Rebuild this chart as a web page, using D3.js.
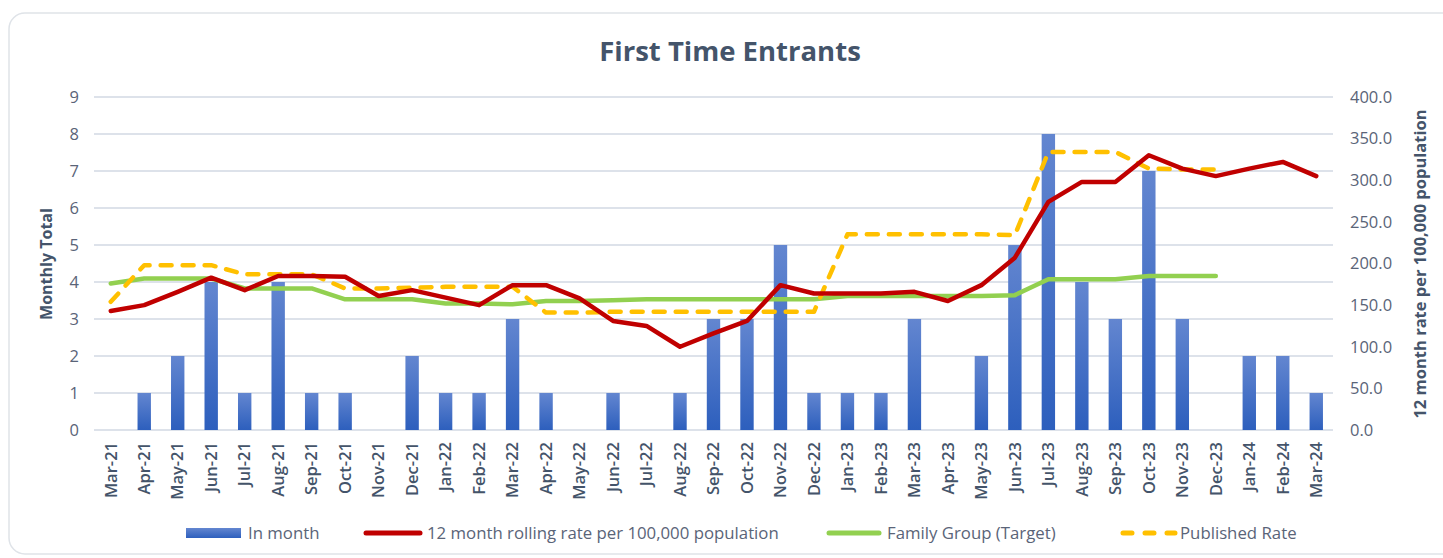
<!DOCTYPE html>
<html><head><meta charset="utf-8">
<script src="https://cdn.jsdelivr.net/npm/d3@7"></script>
<style>
html,body{margin:0;padding:0;background:#fff;}
svg{display:block;font-family:"Open Sans","Noto Sans",sans-serif;}
</style></head>
<body>
<svg id="chart" width="1443" height="558"></svg>
<script>
const months = ["Mar-21","Apr-21","May-21","Jun-21","Jul-21","Aug-21","Sep-21","Oct-21","Nov-21","Dec-21",
"Jan-22","Feb-22","Mar-22","Apr-22","May-22","Jun-22","Jul-22","Aug-22","Sep-22","Oct-22","Nov-22","Dec-22",
"Jan-23","Feb-23","Mar-23","Apr-23","May-23","Jun-23","Jul-23","Aug-23","Sep-23","Oct-23","Nov-23","Dec-23",
"Jan-24","Feb-24","Mar-24"];
const inMonth = [0,1,2,4,1,4,1,1,0,2, 1,1,3,1,0,1,0,1,3,3,5,1, 1,1,3,0,2,5,8,4,3,7,3,0, 2,2,1];
const rollingRate = [143,150,166,183,168,185,185,184,161,168, 159,150,174,174,158,131,125,100,116,131,174,164,
 164,164,166,155,174,207,274,298,298,330,314,305, 314,322,305];
const familyGroup = [176,182,182,182,170,170,170,157,157,157, 152,152,151,155,155,156,157,157,157,157,157,157,
 161,161,161,161,161,162,181,181,181,185,185,185, null,null,null];
const publishedRate = [154,198,198,198,187,187,187,170,170,171, 172,172,172,141,141,142,142,142,142,142,142,142,
 235,235,235,235,235,234,334,334,334,314,313,313, null,null,null];
const leftTicks = [0,1,2,3,4,5,6,7,8,9];
const rightTicks = [0,50,100,150,200,250,300,350,400];

const svg = d3.select("#chart");
const L = 94, R = 1333, T = 97, B = 430;

// card border
svg.append("rect").attr("x",9).attr("y",13).attr("width",1450).attr("height",541)
  .attr("rx",16).attr("fill","#fff").attr("stroke","#dfe3e8").attr("stroke-width",1.5);

const x = d3.scaleBand().domain(months).range([L,R]).paddingInner(0.6).paddingOuter(0.3);
const yL = d3.scaleLinear().domain([0,9]).range([B,T]);
const yR = d3.scaleLinear().domain([0,400]).range([B,T]);
const cx = m => x(m) + x.bandwidth()/2;

// title
svg.append("text").attr("x",730).attr("y",61).attr("text-anchor","middle")
  .attr("font-size",27.5).attr("font-weight",700).attr("fill","#44546a").text("First Time Entrants");

// gridlines
svg.append("g").selectAll("line").data(leftTicks).join("line")
  .attr("x1",L).attr("x2",R).attr("y1",d=>yL(d)).attr("y2",d=>yL(d))
  .attr("stroke","#dde2ea").attr("stroke-width",2);

// left axis
const axL = svg.append("g").attr("transform",`translate(${L-12},0)`)
  .call(d3.axisLeft(yL).tickValues(leftTicks).tickSize(0).tickFormat(d3.format("d")));
axL.select(".domain").remove();
axL.selectAll("text").attr("font-size",16.5).attr("fill","#5a6478").attr("font-family","Open Sans");

// right axis
const axR = svg.append("g").attr("transform",`translate(${R+14},0)`)
  .call(d3.axisRight(yR).tickValues(rightTicks).tickSize(0).tickFormat(d3.format(".1f")));
axR.select(".domain").remove();
axR.selectAll("text").attr("font-size",16.5).attr("fill","#5a6478").attr("font-family","Open Sans");

// axis titles
svg.append("text").attr("transform","translate(52,264) rotate(-90)").attr("text-anchor","middle")
  .attr("font-size",16).attr("font-weight",700).attr("fill","#44546a").text("Monthly Total");
svg.append("text").attr("transform","translate(1426,264) rotate(-90)").attr("text-anchor","middle")
  .attr("font-size",16.5).attr("font-weight",700).attr("fill","#44546a").text("12 month rate per 100,000 population");

// x labels
const axX = svg.append("g").attr("transform",`translate(0,${B})`)
  .call(d3.axisBottom(x).tickSize(0));
axX.select(".domain").remove();
axX.selectAll("text").attr("transform","rotate(-90)").attr("text-anchor","end")
  .attr("x",-12).attr("y",0).attr("dy","0.35em")
  .attr("font-size",16.5).attr("font-weight",600).attr("fill","#44546a").attr("font-family","Open Sans");

// gradient
const defs = svg.append("defs");
const g = defs.append("linearGradient").attr("id","barGrad").attr("x1",0).attr("y1",0).attr("x2",0).attr("y2",1);
g.append("stop").attr("offset","0%").attr("stop-color","#6386d0");
g.append("stop").attr("offset","100%").attr("stop-color","#2d5fbd");

// bars
svg.append("g").selectAll("rect").data(months.map((m,i)=>({m,v:inMonth[i]}))).join("rect")
  .attr("x",d=>x(d.m)).attr("width",x.bandwidth())
  .attr("y",d=>yL(d.v)).attr("height",d=>B-yL(d.v))
  .attr("fill","url(#barGrad)");

function drawLine(vals,color,dash){
  const line = d3.line().defined(d=>d.v!=null).x(d=>cx(d.m)).y(d=>yR(d.v));
  const p = svg.append("path").datum(months.map((m,i)=>({m,v:vals[i]})))
    .attr("d",line).attr("fill","none").attr("stroke",color).attr("stroke-width",4.5)
    .attr("stroke-linejoin","round").attr("stroke-linecap","round");
  if(dash) p.attr("stroke-dasharray",dash);
}
drawLine(familyGroup,"#92d050");
drawLine(publishedRate,"#ffc000","11,11");
drawLine(rollingRate,"#c00000");

// legend
const leg = svg.append("g");
const ly = 533;
leg.append("rect").attr("x",186).attr("y",ly-5).attr("width",55).attr("height",10).attr("fill","url(#barGrad)");
leg.append("text").attr("x",248).attr("y",ly).attr("dy","0.35em").text("In month");
leg.append("line").attr("x1",366).attr("x2",420).attr("y1",ly).attr("y2",ly).attr("stroke","#c00000").attr("stroke-width",5).attr("stroke-linecap","round");
leg.append("text").attr("x",427).attr("y",ly).attr("dy","0.35em").text("12 month rolling rate per 100,000 population");
leg.append("line").attr("x1",829).attr("x2",879).attr("y1",ly).attr("y2",ly).attr("stroke","#92d050").attr("stroke-width",5).attr("stroke-linecap","round");
leg.append("text").attr("x",887).attr("y",ly).attr("dy","0.35em").text("Family Group (Target)");
leg.append("line").attr("x1",1123).attr("x2",1175).attr("y1",ly).attr("y2",ly).attr("stroke","#ffc000").attr("stroke-width",5).attr("stroke-linecap","round").attr("stroke-dasharray","9,13");
leg.append("text").attr("x",1180).attr("y",ly).attr("dy","0.35em").text("Published Rate");
leg.selectAll("text").attr("font-size",16.8).attr("fill","#5a6478");
</script>
</body></html>
